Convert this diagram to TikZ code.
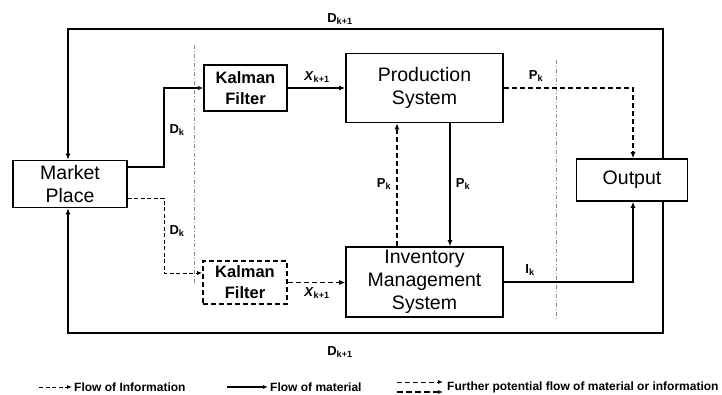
\documentclass[tikz,border=0pt]{standalone}
\usepackage{fontspec}
\setmainfont{Liberation Sans}
\usetikzlibrary{arrows.meta}
\begin{document}
\begin{tikzpicture}[x=1pt,y=-1pt,
 box/.style={draw,line width=1.6pt,inner sep=0pt,align=center,font=\fontsize{19.5}{23}\selectfont},
 kbox/.style={box,font=\bfseries\fontsize{16.5}{21}\selectfont},
 matl/.style={line width=1.8pt},
 potl/.style={line width=1.8pt,dash pattern=on 5pt off 3pt},
 infol/.style={line width=0.9pt,dash pattern=on 4pt off 2.5pt},
 tip/.style={-{Latex[length=6pt,width=5pt]}},
 stip/.style={-{Latex[length=5pt,width=4pt]}},
 lab/.style={font=\bfseries\fontsize{13}{15}\selectfont,inner sep=1pt},
 leg/.style={font=\bfseries\fontsize{12}{14}\selectfont,anchor=west,inner sep=0pt},
 guide/.style={black!45,line width=0.5pt,dash pattern=on 4pt off 2pt on 1pt off 2pt}]
\useasboundingbox (0,0) rectangle (722,394);

% faint guide lines
\coordinate (g1t) at (194,45);
\coordinate (g1b) at (194,285);
\coordinate (g2t) at (556,60);
\coordinate (g2b) at (556,320);
\draw[guide] (g1t) -- (g1b);
\draw[guide] (g2t) -- (g2b);

% boxes
\node[box,minimum width=114pt,minimum height=47pt] (market) at (70,184) {Market\\Place};
\node[kbox,minimum width=83pt,minimum height=46pt] (kal1) at (245.5,88) {Kalman\\Filter};
\node[box,minimum width=157pt,minimum height=69pt] (prod) at (424.5,88) {Production\\System};
\node[box,minimum width=111pt,minimum height=42pt] (out) at (632,180) {Output};
\node[box,minimum width=157pt,minimum height=70pt] (inv) at (424.5,282) {Inventory\\Management\\System};
\node[kbox,dash pattern=on 5pt off 3pt,minimum width=84pt,minimum height=43pt] (kal2) at (245,282.5) {Kalman\\Filter};

% outer loops
\coordinate (tl) at (68,29);
\coordinate (tr) at (663,29);
\coordinate (bl) at (68,333);
\coordinate (br) at (663,333);
\draw[matl,tip] (tr |- out.north) -- (tr) -- (tl) -- (tl |- market.north);
\draw[matl,tip] (br |- out.south) -- (br) -- (bl) -- (bl |- market.south);

% demand to Kalman filters
\coordinate (j1) at (164,167);
\coordinate (j2) at (164,198);
\coordinate (j3) at (164,273);
\draw[line width=1.2pt,stip] (market.east |- j1) -- (j1) -- (j1 |- kal1.west) -- (kal1.west);
\draw[infol,stip] (market.east |- j2) -- (j2) -- (j3) -- (j3 -| kal2.west);

% Kalman to systems
\draw[matl,tip] (kal1.east) -- (kal1.east -| prod.west);
\draw[potl,tip] (kal2.east) -- (kal2.east -| inv.west);

% production / inventory
\coordinate (v1) at (397,0);
\coordinate (v2) at (450,0);
\draw[potl,tip] (v1 |- inv.north) -- (v1 |- prod.south);
\draw[matl,tip] (v2 |- prod.south) -- (v2 |- inv.north);

% to output
\coordinate (c1) at (633,88);
\coordinate (c2) at (633,282);
\draw[potl,tip] (prod.east) -- (c1) -- (c1 |- out.north);
\draw[matl,tip] (inv.east) -- (c2) -- (c2 |- out.south);

% labels
\node[lab] (ld1) at (340,19) {D\textsubscript{k+1}};
\node[lab] (ld2) at (340,352) {D\textsubscript{k+1}};
\node[lab] (ldk1) at (177,130) {D\textsubscript{k}};
\node[lab] (ldk2) at (177,231) {D\textsubscript{k}};
\node[lab] (lx1) at (317,77) {\textit{X}\textsubscript{k+1}};
\node[lab] (lx2) at (317,293) {\textit{X}\textsubscript{k+1}};
\node[lab] (lp1) at (536,76) {P\textsubscript{k}};
\node[lab] (lp2) at (384,184) {P\textsubscript{k}};
\node[lab] (lp3) at (463,184) {P\textsubscript{k}};
\node[lab] (li) at (530,270) {I\textsubscript{k}};

% legend
\coordinate (a1) at (39,387);
\coordinate (a2) at (72,387);
\coordinate (b1) at (227,387);
\coordinate (b2) at (268,387);
\coordinate (p1) at (397,382);
\coordinate (p2) at (443,382);
\coordinate (q1) at (397,392);
\coordinate (q2) at (443,392);
\draw[infol,stip] (a1) -- (a2);
\draw[line width=1.2pt,stip] (b1) -- (b2);
\draw[line width=1pt,dash pattern=on 5pt off 3pt,stip] (p1) -- (p2);
\draw[line width=1.2pt,dash pattern=on 6pt off 3pt,stip] (q1) -- (q2);
\node[leg] (t1) at (74,387) {Flow of Information};
\node[leg] (t2) at (270,387) {Flow of material};
\node[leg] (t3) at (447,387) {Further potential flow of material or information};
\end{tikzpicture}
\end{document}
